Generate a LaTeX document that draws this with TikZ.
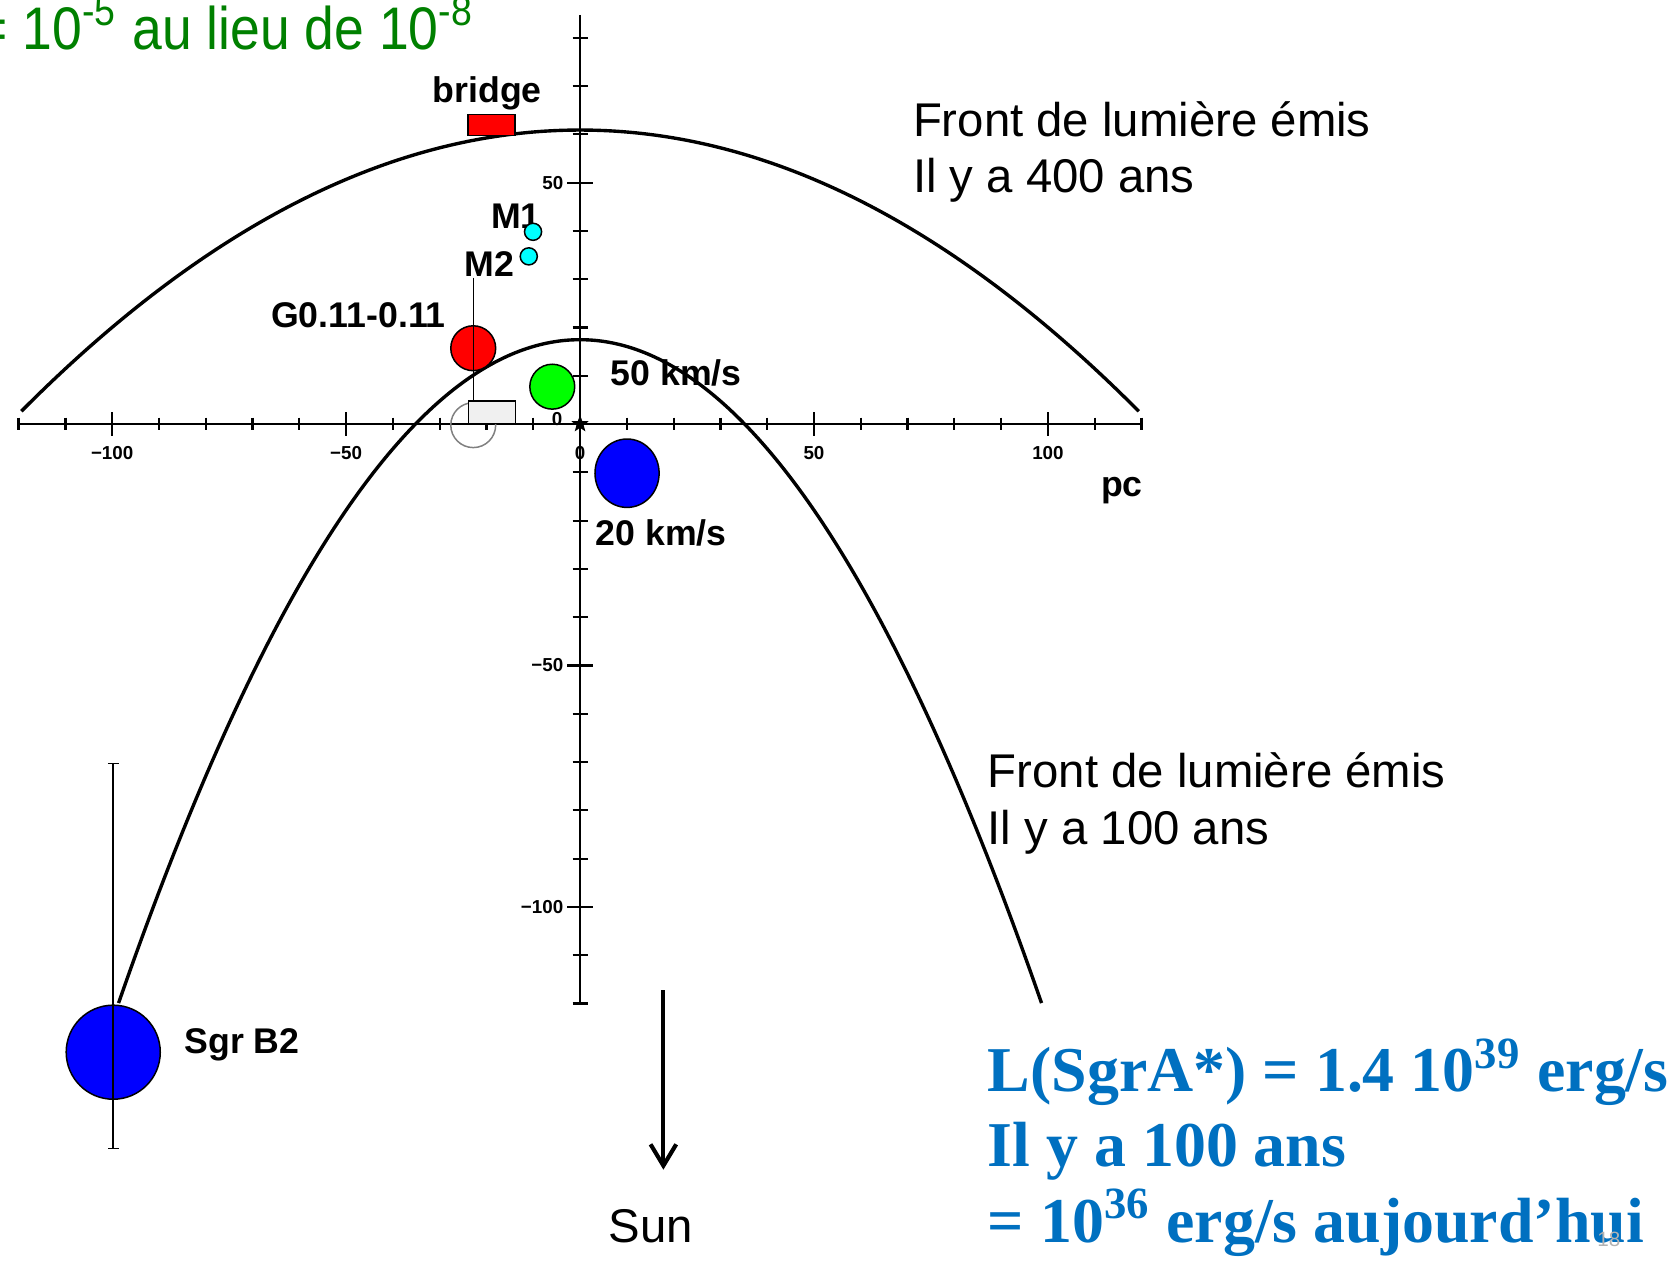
\documentclass[tikz,border=0pt]{standalone}
\usepackage{fontspec}
\setmainfont{Liberation Sans}
\newfontfamily\timesfont{Liberation Serif}
\usetikzlibrary{arrows.meta,shapes.geometric}

\definecolor{echogreen}{RGB}{0,128,0}
\definecolor{lumblue}{RGB}{0,112,192}
\definecolor{maser}{RGB}{0,255,255}
\definecolor{hotgreen}{RGB}{0,255,0}
\definecolor{cloudblue}{RGB}{0,0,255}

\tikzset{
  axis/.style={line width=0.6pt},
  front/.style={line width=0.9pt},
  lbl/.style={font=\fontsize{9.5}{11}\selectfont\bfseries, inner sep=0pt},
  frontlbl/.style={font=\fontsize{12.6}{15}\selectfont, inner sep=0pt, anchor=base west},
  lum/.style={font=\fontsize{17}{20}\selectfont\timesfont\bfseries, text=lumblue, inner sep=0pt, anchor=base west},
  ticklbl/.style={font=\fontsize{5}{6}\selectfont\bfseries, inner sep=0pt},
  cloud/.style={circle, draw, line width=0.4pt, inner sep=0pt},
}

\begin{document}
\begin{tikzpicture}[x=0.01cm, y=-0.01cm, >=Stealth]
  \useasboundingbox (0,0) rectangle (1568,1183);

  % Title line (cut at the left)
  \node[font=\fontsize{16}{19}\selectfont, text=echogreen, xscale=0.89, anchor=base east, inner sep=0pt] (ratio) at (444,46) {= 10\textsuperscript{-5} au lieu de 10\textsuperscript{-8}};

  % Axes in pc
  \draw[axis] (17,397) -- (1069,397);
  \draw[axis] (543,14) -- (543,940);
  \foreach \u in {-120,-110,...,120}
    \draw[axis] ({543+4.38*\u},391) -- ({543+4.38*\u},403);
  \foreach \u in {-100,-50,50,100}
    \draw[axis] ({543+4.38*\u},386) -- ({543+4.38*\u},408);
  \foreach \v in {-120,-110,...,80}
    \draw[axis] (536,{397-4.52*\v}) -- (550,{397-4.52*\v});
  \foreach \v in {-100,-50,50}
    \draw[axis] (531,{397-4.52*\v}) -- (555,{397-4.52*\v});
  \foreach \u/\t [count=\i] in {-100/−100,-50/−50,0/0,50/50,100/100}
    \node[ticklbl] (xtick\i) at ({543+4.38*\u},424) {\t};
  \foreach \v/\t [count=\i] in {50/50,-50/−50,-100/−100}
    \node[ticklbl, anchor=east] (ytick\i) at (528,{397-4.52*\v}) {\t};
  \node[ticklbl, anchor=east] (yzero) at (527,392) {0};
  \node[lbl, anchor=base west] (pc) at (1030,465) {pc};
  \node[star, star points=5, star point ratio=2.4, fill, inner sep=0pt, minimum size=1.7mm] (sgra) at (543,397) {};

  % Light fronts
  \draw[front] (20,385) .. controls (369,34) and (717,34) .. (1066,385);
  \draw[front] (111,939) .. controls (399,111) and (687,111) .. (975,939);
  \node[frontlbl] (front1a) at (854,128) {Front de lumière émis};
  \node[frontlbl] (front1b) at (854,180) {Il y a 400 ans};
  \node[frontlbl] (front2a) at (924,737) {Front de lumière émis};
  \node[frontlbl] (front2b) at (924,791) {Il y a 100 ans};

  % Clouds
  \node[lbl, anchor=base] (bridge) at (456,96) {bridge};
  \node[draw, fill=red, line width=0.4pt, inner sep=0pt, minimum width=4.4mm, minimum height=2mm] (bridgebox) at (460,117) {};
  \node[lbl, anchor=base west] (m1lbl) at (459,214) {M1};
  \node[lbl, anchor=base west] (m2lbl) at (434,259) {M2};
  \node[cloud, fill=maser, minimum size=1.6mm] (m1) at (499,217) {};
  \node[cloud, fill=maser, minimum size=1.6mm] (m2) at (495,240) {};
  \node[lbl, anchor=base east] (g011lbl) at (418,307) {G0.11-0.11};
  \node[cloud, fill=red, minimum size=4.2mm] (g011) at (443,326) {};
  \node[cloud, draw=gray, minimum size=4.2mm] (g011proj) at (443,398) {};
  \node[draw, fill=gray!12, line width=0.4pt, inner sep=0pt, minimum width=4.4mm, minimum height=2.1mm, anchor=south west] (bridgeproj) at (438,397) {};
  \coordinate (stemtop) at (443,260);
  \draw[line width=0.3pt] (stemtop) -- (stemtop |- bridgeproj.north);
  \node[cloud, fill=hotgreen, minimum size=4.2mm] (c50) at (517,362) {};
  \node[lbl, anchor=base west] (c50lbl) at (571,361) {50 km/s};
  \node[ellipse, draw, fill=cloudblue, line width=0.4pt, inner sep=0pt, minimum width=6mm, minimum height=6.4mm] (c20) at (587,443) {};
  \node[lbl, anchor=base west] (c20lbl) at (557,511) {20 km/s};

  % Sgr B2 with its range
  \node[cloud, fill=cloudblue, minimum size=8.8mm] (sgrb2) at (106,985) {};
  \coordinate (errtop) at (106,714);
  \coordinate (errbot) at (106,1076);
  \draw[line width=0.4pt, {Bar[width=1mm]}-{Bar[width=1mm]}] (errtop) -- (errbot);
  \node[lbl, anchor=base west] (sgrb2lbl) at (172,986) {Sgr B2};

  % Direction of the Sun
  \coordinate (sunstart) at (621,927);
  \coordinate (suntip) at (621,1095);
  \draw[line width=1.1pt, -{Straight Barb[length=2mm, width=2.4mm]}] (sunstart) -- (suntip);
  \node[frontlbl] (sun) at (569,1163) {Sun};

  % Luminosity
  \node[lum] (lum1) at (924,1022) {L(SgrA*) = 1.4 10\textsuperscript{39} erg/s};
  \node[lum] (lum2) at (924,1092) {Il y a 100 ans};
  \node[lum] (lum3) at (924,1163) {= 10\textsuperscript{36} erg/s aujourd’hui};
  \node[font=\fontsize{5.5}{6}\selectfont, text=gray!60, anchor=base, inner sep=0pt] (slidenum) at (1506,1167) {18};
\end{tikzpicture}
\end{document}
